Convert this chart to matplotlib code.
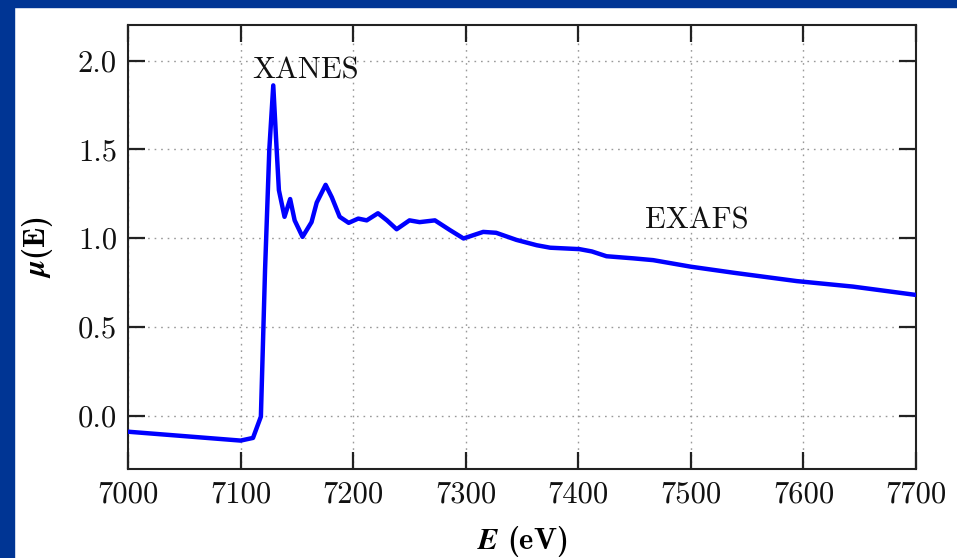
import matplotlib
matplotlib.use("Agg")
import matplotlib.pyplot as plt
from matplotlib.patches import Rectangle

# absorption spectrum, read as energy (eV) vs mu(E)
energy = [7000, 7050, 7100, 7111, 7118, 7121.7, 7125.5, 7129, 7132, 7134,
          7139, 7144, 7148, 7155, 7163, 7167.6, 7175.5, 7181, 7188, 7196,
          7204.5, 7212, 7222, 7230, 7238.6, 7250, 7259, 7272.6, 7286, 7298,
          7306, 7315.5, 7327, 7345, 7363, 7375, 7401, 7412, 7425, 7449,
          7466.5, 7500, 7538, 7594, 7644, 7700]
mu = [-0.09, -0.115, -0.14, -0.125, -0.005, 0.82, 1.50, 1.86, 1.50, 1.27,
      1.12, 1.22, 1.10, 1.007, 1.09, 1.20, 1.30, 1.23, 1.12, 1.086,
      1.11, 1.10, 1.14, 1.10, 1.05, 1.10, 1.09, 1.10, 1.045, 0.998,
      1.015, 1.035, 1.03, 0.99, 0.96, 0.946, 0.938, 0.925, 0.898, 0.886,
      0.876, 0.839, 0.805, 0.758, 0.727, 0.68]

xticks = [7000, 7100, 7200, 7300, 7400, 7500, 7600, 7700]
yticks = [0.0, 0.5, 1.0, 1.5, 2.0]

plt.rcParams.update({
    "font.family": "cmr10",
    "font.size": 22,
    "axes.formatter.use_mathtext": True,
    "mathtext.fontset": "custom",
    "mathtext.rm": "cmr10",
    "mathtext.it": "cmmi10",
    "mathtext.bf": "cmb10",
    "mathtext.bfit": "STIXGeneral:italic:bold",
})

fig = plt.figure(figsize=(9.57, 5.58), dpi=100)
ax = fig.add_axes([0.1338, 0.1595, 0.8234, 0.7957])

# dark blue frame on the left and top edges
fig.patches.append(Rectangle((0, 0), 14 / 957, 1, transform=fig.transFigure,
                             color="#003594", zorder=0))
fig.patches.append(Rectangle((0, 551 / 558), 1, 7 / 558, transform=fig.transFigure,
                             color="#003594", zorder=0))

ax.plot(energy, mu, color="#0000ff", lw=3.2, solid_joinstyle="round",
        solid_capstyle="round", zorder=3)

ax.set_xlim(7000, 7700)
ax.set_ylim(-0.3, 2.2)
ax.set_xticks(xticks)
ax.set_xticklabels([str(t) for t in xticks])
ax.set_yticks(yticks)
ax.set_yticklabels(["%.1f" % t for t in yticks])

ax.grid(True, ls=(0, (1.2, 3.5)), color="#999999", lw=1.0)
ax.set_axisbelow(True)
ax.tick_params(direction="in", length=12, width=1.6, top=True, right=True,
               colors="#222222", labelcolor="#111111")
ax.tick_params(axis="x", pad=9)
ax.tick_params(axis="y", pad=8)
for s in ax.spines.values():
    s.set_linewidth(1.5)
    s.set_color("#222222")

ax.set_xlabel(r"$\mathbfit{E}\ \mathbf{(eV)}$", labelpad=11)
ax.set_ylabel(r"$\mathbfit{\mu}\mathbf{(E)}$", labelpad=16)

ax.text(7110, 1.94, "XANES", va="center", ha="left", color="#111111")
ax.text(7459, 1.10, "EXAFS", va="center", ha="left", color="#111111")

fig.savefig("out.png", dpi=100)
